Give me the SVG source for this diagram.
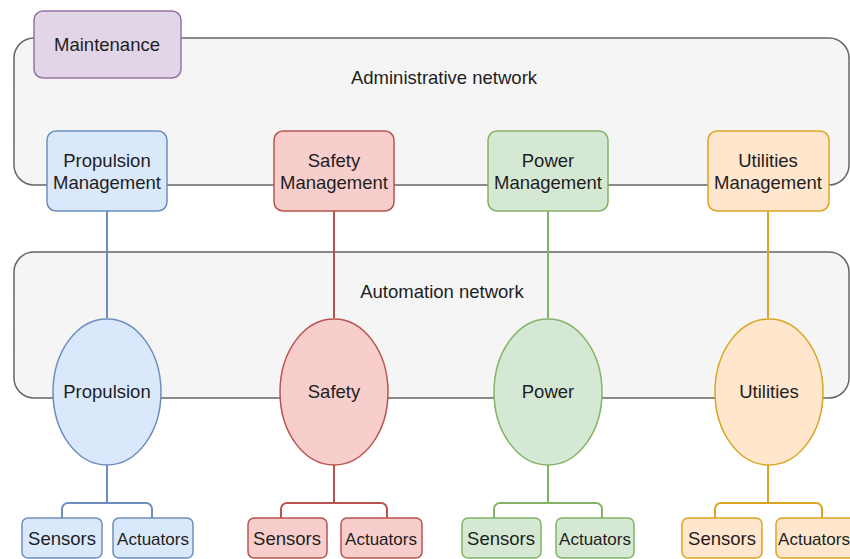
<svg xmlns="http://www.w3.org/2000/svg" width="850" height="559" viewBox="0 0 850 559">
<style>
text{font-family:"Liberation Sans",Arial,sans-serif;font-size:18.5px;fill:#1e1e1e;text-anchor:middle}
.net{fill:#f5f5f5;stroke:#666666;stroke-width:1.5}
.b{fill:#dae8fc;stroke:#6c8ebf;stroke-width:1.5}
.r{fill:#f8cecc;stroke:#b85450;stroke-width:1.5}
.g{fill:#d5e8d4;stroke:#82b366;stroke-width:1.5}
.o{fill:#ffe6cc;stroke:#dba521;stroke-width:1.5}
.p{fill:#e1d5e7;stroke:#9673a6;stroke-width:1.5}
.cb{fill:none;stroke:#6c8ebf;stroke-width:2}
.cr{fill:none;stroke:#b85450;stroke-width:2}
.cg{fill:none;stroke:#82b366;stroke-width:2}
.co{fill:none;stroke:#dba521;stroke-width:2}
.sm{font-size:17px}
</style>
<g id="admin-network"><rect class="net" x="14" y="38" width="835" height="147" rx="20"/><text x="444" y="84">Administrative network</text></g>
<g id="automation-network"><rect class="net" x="14" y="252" width="835" height="146" rx="20"/><text x="442" y="298">Automation network</text></g>
<g id="connectors">
<path class="cb" d="M107 211V318M107 465V503M62 518V509a6 6 0 0 1 6-6H146a6 6 0 0 1 6 6V518"/>
<path class="cr" d="M334 211V318M334 465V503M281 518V509a6 6 0 0 1 6-6H381a6 6 0 0 1 6 6V518"/>
<path class="cg" d="M548 211V318M548 465V503M494 518V509a6 6 0 0 1 6-6H596a6 6 0 0 1 6 6V518"/>
<path class="co" d="M768 211V318M768 465V503M715 518V509a6 6 0 0 1 6-6H816a6 6 0 0 1 6 6V518"/>
</g>
<g id="maintenance"><rect class="p" x="34" y="11" width="147" height="67" rx="9"/><text x="107" y="51">Maintenance</text></g>
<g id="propulsion-management"><rect class="b" x="47" y="131" width="120" height="80" rx="9"/><text x="107" y="167">Propulsion</text><text x="107" y="189">Management</text></g>
<g id="safety-management"><rect class="r" x="274" y="131" width="120" height="80" rx="9"/><text x="334" y="167">Safety</text><text x="334" y="189">Management</text></g>
<g id="power-management"><rect class="g" x="488" y="131" width="120" height="80" rx="9"/><text x="548" y="167">Power</text><text x="548" y="189">Management</text></g>
<g id="utilities-management"><rect class="o" x="708" y="131" width="121" height="80" rx="9"/><text x="768" y="167">Utilities</text><text x="768" y="189">Management</text></g>
<g id="propulsion"><ellipse class="b" cx="107" cy="392" rx="54" ry="73"/><text x="107" y="398">Propulsion</text></g>
<g id="safety"><ellipse class="r" cx="334" cy="392" rx="54" ry="73"/><text x="334" y="398">Safety</text></g>
<g id="power"><ellipse class="g" cx="548" cy="392" rx="54" ry="73"/><text x="548" y="398">Power</text></g>
<g id="utilities"><ellipse class="o" cx="769" cy="392" rx="54" ry="73"/><text x="769" y="398">Utilities</text></g>
<g id="propulsion-sensors"><rect class="b" x="22" y="518" width="80" height="40" rx="6"/><text x="62" y="545">Sensors</text></g>
<g id="propulsion-actuators"><rect class="b" x="113" y="518" width="80" height="40" rx="6"/><text class="sm" x="153" y="545">Actuators</text></g>
<g id="safety-sensors"><rect class="r" x="248" y="518" width="79" height="40" rx="6"/><text x="287" y="545">Sensors</text></g>
<g id="safety-actuators"><rect class="r" x="341" y="518" width="81" height="40" rx="6"/><text class="sm" x="381" y="545">Actuators</text></g>
<g id="power-sensors"><rect class="g" x="462" y="518" width="79" height="40" rx="6"/><text x="501" y="545">Sensors</text></g>
<g id="power-actuators"><rect class="g" x="556" y="518" width="78" height="40" rx="6"/><text class="sm" x="595" y="545">Actuators</text></g>
<g id="utilities-sensors"><rect class="o" x="682" y="518" width="80" height="40" rx="6"/><text x="722" y="545">Sensors</text></g>
<g id="utilities-actuators"><rect class="o" x="776" y="518" width="80" height="40" rx="6"/><text class="sm" x="814" y="545">Actuators</text></g>
</svg>
